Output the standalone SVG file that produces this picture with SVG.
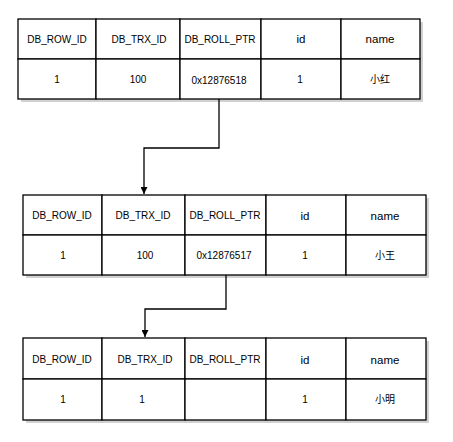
<svg xmlns="http://www.w3.org/2000/svg" width="453" height="442" viewBox="0 0 453 442">
<style>
.cell{fill:#fff;stroke:#000;stroke-width:1.3}
.shadow{fill:#000;opacity:0.18}
.t{font-family:"Liberation Sans","Noto Sans CJK SC",sans-serif;font-size:10px;fill:#000;text-anchor:middle;dominant-baseline:central}
.big{font-size:11.5px}
.conn{fill:none;stroke:#000;stroke-width:1.3}
</style>
<defs>
<marker id="arr" viewBox="0 0 10 10" refX="10" refY="5" markerWidth="7" markerHeight="7" orient="auto" markerUnits="userSpaceOnUse">
<path d="M0,0 L10,5 L0,10 z" fill="#000"/>
</marker>
</defs>
<rect class="shadow" x="21" y="22" width="402" height="80"/>
<rect class="shadow" x="26" y="198" width="403" height="80"/>
<rect class="shadow" x="26" y="341" width="403" height="82"/>
<g id="table1">
<rect class="cell" x="18" y="19" width="78" height="40"/>
<rect class="cell" x="96" y="19" width="84" height="40"/>
<rect class="cell" x="180" y="19" width="81" height="40"/>
<rect class="cell" x="261" y="19" width="80" height="40"/>
<rect class="cell" x="341" y="19" width="79" height="40"/>
<rect class="cell" x="18" y="59" width="78" height="40"/>
<rect class="cell" x="96" y="59" width="84" height="40"/>
<rect class="cell" x="180" y="59" width="81" height="40"/>
<rect class="cell" x="261" y="59" width="80" height="40"/>
<rect class="cell" x="341" y="59" width="79" height="40"/>
<text class="t" x="57" y="39">DB_ROW_ID</text>
<text class="t" x="139" y="39">DB_TRX_ID</text>
<text class="t" x="220" y="39">DB_ROLL_PTR</text>
<text class="t big" x="301" y="39">id</text>
<text class="t big" x="380" y="39">name</text>
<text class="t" x="57" y="79">1</text>
<text class="t" x="138" y="79">100</text>
<text class="t" x="219" y="80">0x12876518</text>
<text class="t" x="300" y="79">1</text>
<text class="t" x="380" y="79">小红</text>
</g>
<g id="table2">
<rect class="cell" x="23" y="195" width="79" height="40"/>
<rect class="cell" x="102" y="195" width="83" height="40"/>
<rect class="cell" x="185" y="195" width="81" height="40"/>
<rect class="cell" x="266" y="195" width="80" height="40"/>
<rect class="cell" x="346" y="195" width="80" height="40"/>
<rect class="cell" x="23" y="235" width="79" height="40"/>
<rect class="cell" x="102" y="235" width="83" height="40"/>
<rect class="cell" x="185" y="235" width="81" height="40"/>
<rect class="cell" x="266" y="235" width="80" height="40"/>
<rect class="cell" x="346" y="235" width="80" height="40"/>
<text class="t" x="62" y="215">DB_ROW_ID</text>
<text class="t" x="143" y="215">DB_TRX_ID</text>
<text class="t" x="225" y="215">DB_ROLL_PTR</text>
<text class="t big" x="305" y="216">id</text>
<text class="t big" x="385" y="216">name</text>
<text class="t" x="63" y="255">1</text>
<text class="t" x="145" y="255">100</text>
<text class="t" x="224" y="255">0x12876517</text>
<text class="t" x="305" y="255">1</text>
<text class="t" x="385" y="255">小王</text>
</g>
<g id="table3">
<rect class="cell" x="23" y="338" width="79" height="41"/>
<rect class="cell" x="102" y="338" width="83" height="41"/>
<rect class="cell" x="185" y="338" width="81" height="41"/>
<rect class="cell" x="266" y="338" width="80" height="41"/>
<rect class="cell" x="346" y="338" width="80" height="41"/>
<rect class="cell" x="23" y="379" width="79" height="41"/>
<rect class="cell" x="102" y="379" width="83" height="41"/>
<rect class="cell" x="185" y="379" width="81" height="41"/>
<rect class="cell" x="266" y="379" width="80" height="41"/>
<rect class="cell" x="346" y="379" width="80" height="41"/>
<text class="t" x="62" y="359">DB_ROW_ID</text>
<text class="t" x="145" y="359">DB_TRX_ID</text>
<text class="t" x="225" y="359">DB_ROLL_PTR</text>
<text class="t big" x="305" y="360">id</text>
<text class="t big" x="385" y="360">name</text>
<text class="t" x="63" y="399">1</text>
<text class="t" x="142" y="399">1</text>
<text class="t" x="305" y="399">1</text>
<text class="t" x="385" y="399">小明</text>
</g>
<g id="connectors">
<path class="conn" d="M219,99 V148 H144 V194" marker-end="url(#arr)"/>
<path class="conn" d="M226,275 V309 H145 V337" marker-end="url(#arr)"/>
</g>
</svg>
